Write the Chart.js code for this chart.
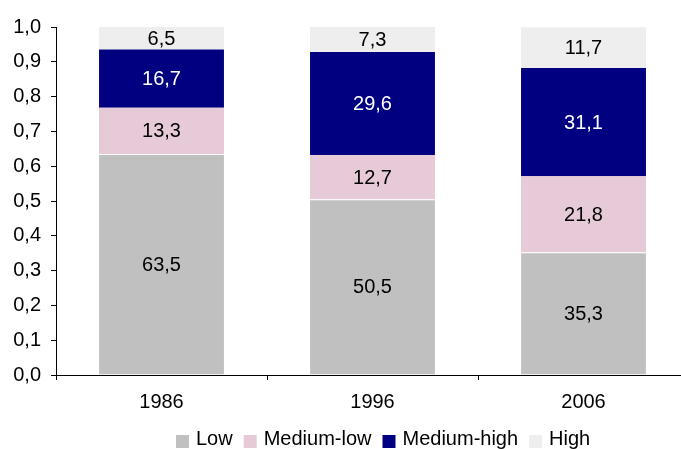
<!DOCTYPE html>
<html>
<head>
<meta charset="utf-8">
<script src="https://cdn.jsdelivr.net/npm/chart.js@4/dist/chart.umd.min.js"></script>
<style>
  html, body { margin: 0; padding: 0; background: #fff; }
  #frame { width: 681px; height: 449px; overflow: hidden; position: relative; }
  canvas { display: block; }
</style>
</head>
<body>
<div id="frame"><canvas id="chart" width="689" height="449"></canvas></div>
<script>
// Categories and series (shares in percent)
const years = ['1986', '1996', '2006'];
const seriesNames = ['Low', 'Medium-low', 'Medium-high', 'High'];
const low = [63.5, 50.5, 35.3];
const mediumLow = [13.3, 12.7, 21.8];
const mediumHigh = [16.7, 29.6, 31.1];
const high = [6.5, 7.3, 11.7];

const seriesValues = [low, mediumLow, mediumHigh, high];
const fillColors = ['#C0C0C0', '#E6CAD7', '#000080', '#EEEEEE'];
const textColors = ['#000000', '#000000', '#FFFFFF', '#000000'];

const FONT = "'Liberation Sans', Arial, sans-serif";
Chart.defaults.font.family = FONT;
Chart.defaults.font.size = 20;
Chart.defaults.color = '#000';

const fmt = v => v.toFixed(1).replace('.', ',');

// Writes each segment's percentage in the middle of its bar piece
const segmentLabels = {
  id: 'segmentLabels',
  afterDatasetsDraw(chart) {
    const ctx = chart.ctx;
    ctx.save();
    ctx.font = '20px ' + FONT;
    ctx.textAlign = 'center';
    ctx.textBaseline = 'middle';
    chart.data.datasets.forEach((ds, di) => {
      const meta = chart.getDatasetMeta(di);
      meta.data.forEach((bar, i) => {
        const top = Math.max(bar.y, chart.chartArea.top);
        const yMid = (top + bar.base) / 2;
        ctx.fillStyle = textColors[di];
        ctx.fillText(fmt(ds.pct[i]), bar.x, yMid + 1);
      });
    });
    ctx.restore();
  }
};

// Single-row legend under the category labels
const bottomLegend = {
  id: 'bottomLegend',
  afterDraw(chart) {
    const ctx = chart.ctx;
    ctx.save();
    ctx.font = '20px ' + FONT;
    ctx.textBaseline = 'alphabetic';
    ctx.textAlign = 'left';
    let x = 176;
    chart.data.datasets.forEach(ds => {
      ctx.fillStyle = ds.backgroundColor;
      ctx.fillRect(x, 435, 13, 13);
      x += 13 + 7;
      ctx.fillStyle = '#000';
      ctx.fillText(ds.label, x, 445);
      x += ctx.measureText(ds.label).width + 11;
    });
    ctx.restore();
  }
};

const datasets = seriesNames.map((name, k) => ({
  label: name,
  pct: seriesValues[k],
  data: seriesValues[k].map(v => v / 100),
  backgroundColor: fillColors[k],
  borderColor: '#FFFFFF',
  borderWidth: k === 0 ? { top: 1, right: 0, bottom: 0, left: 0 } : 0,
  borderSkipped: false,
  categoryPercentage: 1.0,
  barPercentage: 0.592
}));

new Chart(document.getElementById('chart'), {
  type: 'bar',
  data: { labels: years, datasets },
  options: {
    responsive: false,
    animation: false,
    layout: { padding: { top: 27, right: 0, bottom: 35, left: 0 } },
    plugins: {
      legend: { display: false },
      tooltip: { enabled: false }
    },
    scales: {
      x: {
        stacked: true,
        afterFit: s => { s.height = 39; },
        grid: {
          offset: true,
          drawOnChartArea: false,
          drawTicks: true,
          tickLength: 5,
          color: '#000'
        },
        border: { display: true, color: '#000', width: 1 },
        ticks: { padding: 10, maxRotation: 0, color: '#000', font: { size: 20 } }
      },
      y: {
        stacked: true,
        min: 0,
        max: 1,
        afterFit: s => { s.width = 56; },
        grid: {
          drawOnChartArea: false,
          drawTicks: true,
          tickLength: 5,
          color: '#000'
        },
        border: { display: true, color: '#000', width: 1 },
        ticks: {
          stepSize: 0.1,
          padding: 10,
          color: '#000',
          font: { size: 20 },
          callback: v => fmt(v)
        }
      }
    }
  },
  plugins: [segmentLabels, bottomLegend]
});
</script>
</body>
</html>
